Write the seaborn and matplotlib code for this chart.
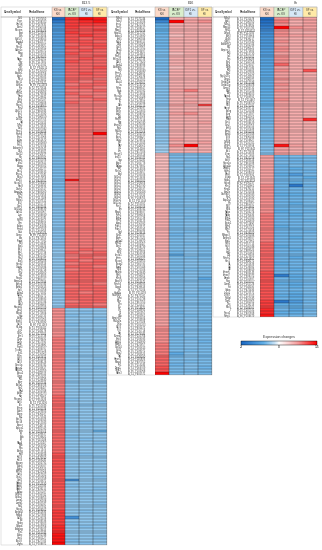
import numpy as np
import pandas as pd
import matplotlib
matplotlib.use("Agg")
import matplotlib.pyplot as plt
from matplotlib.colors import LinearSegmentedColormap, TwoSlopeNorm
from matplotlib.patches import Rectangle
import seaborn as sns

plt.rcParams['font.family'] = ['Liberation Sans', 'DejaVu Sans']

# %% data ------------------------------------------------------------
columns = ["KS vs.\nK26", "PACAP\nvs. KS", "IGF1 vs.\nKS", "SF vs.\nKS"]
header_colors = ["#fbd9c8", "#d9edcc", "#d6e7f6", "#ffeaa8"]
titles = ["E13.5", "E16", "8h"]

e135_genes = [
    "Ccl1", "Procr", "Unc5d", "Chst2", "Mecom", "Agt", "Bsn", "Cyb5r2", "Arrdc3", "Klk8",
    "Rasd1", "Cdkn1c", "Mrap", "Vcl", "Nppc", "Pyy", "Gdf6", "Gsr", "Egfl6", "Scube1",
    "Sgcb", "Mest", "Sox11", "Wnt5a", "Tnc", "Sulf1", "Ptprz1", "Nnat", "Tac1", "Wnt4",
    "Rspo3", "Fbn2", "Zfp521", "Tcf4", "Nrn1", "Twist2", "Id4", "Tgfb2", "Sall1", "Foxc1",
    "Pcdh8", "Sfrp1", "Crym", "Sfrp2", "Prrx1", "Adamts9", "Dlk1", "Cxcl12", "Ptn", "Igf2bp1",
    "Lhx2", "Ednra", "Gli3", "Msx1", "Shox2", "Meis2", "Tbx15", "Hoxa10", "Pax9", "Dach1",
    "Sema3a", "Efnb2", "Nrp2", "Robo1", "Slit2", "Gpc6", "Col14a1", "Cdh11", "Lum", "Dcn",
    "Postn", "Ogn", "Aspn", "Fmod", "Ctsk", "Comp", "Scx", "Tnmd", "Mkx", "Eya1",
    "Six1", "Six2", "Pitx1", "Pitx2", "Tbx5", "Hand2", "Gata6", "Osr1", "Osr2", "Wt1",
    "Foxd1", "Sema5a", "Epha4", "Ephb2", "Lgr5", "Axin2", "Nkd1", "Fzd7", "Wif1", "Dkk2", "Kazald1",
    "Cpa3", "Mcpt4", "Hdc", "Cma1", "Tpsb2", "Cd74", "H2-Aa", "Lyz2", "Csf1r", "Emr1",
    "C1qa", "C1qb", "C1qc", "Fcgr3", "Tyrobp", "Lcp1", "Ptprc", "Cd52", "Cd53", "Coro1a",
    "Hba-a1", "Hbb-b1", "Alas2", "Gypa", "Klf1", "Epor", "Slc4a1", "Car2", "Rhd", "Spta1",
    "Kdr", "Pecam1", "Cdh5", "Tek", "Emcn", "Cldn5", "Esam", "Flt1", "Sox17", "Sox18",
    "Apoe", "Apoa1", "Afp", "Ttr", "Alb", "Trf", "Rbp4", "Fgb", "Fga", "Ahsg",
    "Krt8", "Krt18", "Krt19", "Epcam", "Cldn4", "Cldn7", "Spint2", "Cdh1", "Ovol2", "Grhl2",
    "Igfbp2", "Igfbp5", "Igfbp7", "Sparc", "Col4a1", "Col4a2", "Lama1", "Lamb1", "Nid1", "Hspg2",
    "Angpt2", "Fabp4", "Cd36", "Lpl", "Pparg", "Cebpa", "Adipoq", "Plin1", "Cidec", "Ucp1", "Elovl3", "Vegfa",
]
e135_probes = [
    "A_51_P297450", "A_66_P108302", "A_52_P267635", "A_55_P196788", "A_51_P509476", "A_51_P123856", "A_52_P519104", "A_55_P209163", "A_51_P446577", "A_52_P163497",
    "A_51_P250652", "A_55_P199371", "A_51_P319766", "A_52_P628103", "A_51_P161351", "A_66_P117905", "A_51_P212782", "A_52_P542211", "A_51_P135020", "A_55_P203358",
    "A_52_P339025", "A_51_P418402", "A_51_P376671", "A_55_P211954", "A_52_P270614", "A_51_P206569", "A_51_P479508", "A_52_P128842", "A_51_P347297", "A_55_P198406",
    "A_51_P108563", "A_52_P640057", "A_51_P460845", "A_55_P213380", "A_51_P280150", "A_52_P107755", "A_51_P226416", "A_51_P372633", "A_55_P207042", "A_52_P394018",
    "A_51_P196534", "A_51_P512066", "A_52_P451670", "A_55_P200839", "A_51_P322704", "A_66_P110542", "A_51_P154011", "A_52_P236617", "A_51_P483392", "A_55_P215076",
    "A_51_P387815", "A_52_P583302", "A_51_P140277", "A_55_P206633", "A_51_P271945", "A_52_P317859", "A_51_P429101", "A_66_P104423", "A_51_P168896", "A_55_P210517",
    "A_52_P483260", "A_51_P337459", "A_51_P117028", "A_55_P197512", "A_51_P255713", "A_52_P602184", "A_51_P408639", "A_51_P182967", "A_55_P204880", "A_52_P219745",
    "A_51_P364110", "A_51_P497832", "A_52_P145608", "A_55_P212269", "A_51_P230474", "A_66_P113387", "A_51_P471553", "A_52_P377091", "A_51_P133845", "A_55_P199824",
    "A_51_P298617", "A_52_P526738", "A_51_P410392", "A_55_P208471", "A_51_P185206", "A_52_P282519", "A_51_P350884", "A_66_P106718", "A_51_P243160", "A_55_P214903",
    "A_52_P460327", "A_51_P127594", "A_51_P392746", "A_55_P201615", "A_51_P316058", "A_52_P171932", "A_51_P456271", "A_51_P209883", "A_55_P205334", "A_52_P598466", "A_51_P281709",
    "A_51_P220915", "A_52_P372804", "A_51_P141733", "A_55_P197065", "A_51_P433580", "A_66_P111269", "A_51_P306412", "A_52_P249178", "A_51_P172926", "A_55_P212738",
    "A_51_P358431", "A_52_P617595", "A_51_P119680", "A_55_P203907", "A_51_P487224", "A_52_P135062", "A_51_P262873", "A_51_P415548", "A_55_P208126", "A_52_P306741",
    "A_51_P193617", "A_51_P342059", "A_52_P488313", "A_55_P216422", "A_51_P228840", "A_66_P107594", "A_51_P464706", "A_52_P204457", "A_51_P150918", "A_55_P200273",
    "A_51_P379462", "A_52_P551829", "A_51_P113295", "A_55_P210849", "A_51_P291378", "A_52_P328605", "A_51_P436197", "A_51_P176543", "A_55_P206915", "A_52_P412083",
    "A_51_P248716", "A_51_P501392", "A_52_P158764", "A_55_P198637", "A_51_P334821", "A_66_P115028", "A_51_P120457", "A_52_P263390", "A_51_P477675", "A_55_P213514",
    "A_51_P204188", "A_52_P579910", "A_51_P368245", "A_55_P202791", "A_51_P159307", "A_52_P345526", "A_51_P420964", "A_51_P267102", "A_55_P207658", "A_52_P193871",
    "A_51_P312530", "A_51_P145986", "A_52_P434215", "A_55_P215287", "A_51_P399741", "A_66_P109853", "A_51_P236108", "A_52_P591347", "A_51_P187592", "A_55_P204162",
    "A_51_P451836", "A_52_P227689", "A_51_P128374", "A_55_P209596", "A_51_P374903", "A_52_P502958", "A_51_P274416", "A_51_P162045", "A_55_P201348", "A_52_P366127", "A_51_P427783", "A_51_P308871",
]
e135_ks = [
    -3.0, -2.5, -1.9, -1.8, -1.8, -1.7, -1.7, -1.6, -1.6, -1.6,
    -1.5, -1.5, -1.5, -1.5, -1.4, -1.4, -1.4, -1.4, -1.4, -1.3,
    -1.3, -1.3, -1.3, -1.3, -1.3, -1.2, -1.2, -1.2, -1.2, -1.2,
    -1.2, -1.2, -1.2, -1.1, -1.1, -1.1, -1.1, -1.1, -1.1, -1.1,
    -1.1, -1.1, -1.1, -1.1, -1.0, -1.0, -1.0, -1.0, -1.0, -1.0,
    -1.0, -1.0, -1.0, -1.0, -1.0, -1.0, -1.0, -1.0, -1.0, -1.0,
    -0.9, -0.9, -0.9, -0.9, -0.9, -0.9, -0.9, -0.9, -0.9, -0.9,
    -0.9, -0.9, -0.9, -0.9, -0.9, -0.9, -0.9, -0.9, -0.9, -0.9,
    -0.8, -0.8, -0.8, -0.8, -0.8, -0.8, -0.8, -0.8, -0.8, -0.8,
    -0.8, -0.8, -0.8, -0.8, -0.8, -0.8, -0.8, -0.8, -0.8, -0.8, -0.8,
    0.8, 0.8, 0.8, 0.8, 0.8, 0.8, 0.8, 0.8, 0.8, 0.8,
    0.9, 0.9, 0.9, 0.9, 0.9, 0.9, 0.9, 0.9, 0.9, 0.9,
    0.9, 0.9, 0.9, 0.9, 0.9, 0.9, 0.9, 0.9, 0.9, 0.9,
    1.0, 1.0, 1.0, 1.0, 1.0, 1.0, 1.0, 1.0, 1.0, 1.0,
    1.0, 1.0, 1.0, 1.0, 1.0, 1.0, 1.0, 1.0, 1.0, 1.0,
    1.1, 1.1, 1.1, 1.1, 1.1, 1.1, 1.1, 1.1, 1.1, 1.1,
    1.1, 1.1, 1.1, 1.1, 1.1, 1.1, 1.1, 1.1, 1.1, 1.1,
    1.2, 1.2, 1.2, 1.2, 1.2, 1.3, 1.3, 1.3, 1.4, 1.4, 1.4, 1.5,
]
e135_pacap = [
    1.3, 1.2, 1.2, 1.2, 1.1, 1.2, 1.1, 1.1, 1.1, 1.0,
    1.1, 1.0, 1.1, 1.0, 1.0, 1.1, 1.0, 1.0, 1.0, 1.0,
    1.0, 1.0, 1.0, 0.9, 1.0, 0.9, 1.0, 0.9, 0.9, 1.0,
    0.9, 0.9, 0.9, 0.9, 0.9, 0.9, 0.9, 0.9, 0.9, 0.9,
    0.9, 0.9, 0.9, 0.9, 0.9, 0.9, 0.9, 0.9, 0.9, 0.9,
    0.9, 0.9, 0.9, 0.9, 0.9, 0.9, 1.4, 0.9, 0.9, 0.9,
    0.9, 0.9, 0.9, 0.9, 0.9, 0.9, 0.9, 0.9, 0.9, 0.9,
    0.9, 0.9, 0.9, 0.9, 0.9, 0.9, 0.9, 0.9, 0.9, 0.9,
    0.9, 1.0, 0.9, 0.9, 1.0, 0.9, 1.0, 0.9, 1.0, 1.0,
    1.0, 1.0, 1.0, 0.9, 1.0, 1.0, 1.0, 1.0, 0.9, 1.0, 1.0,
    -0.8, -0.8, -0.9, -0.8, -0.8, -0.9, -0.8, -0.8, -0.8, -0.9,
    -0.8, -0.8, -0.8, -0.9, -0.8, -0.8, -0.8, -0.8, -0.9, -0.8,
    -0.8, -0.8, -0.8, -0.8, -0.8, -0.9, -0.8, -0.8, -0.8, -0.8,
    -0.8, -0.9, -0.8, -0.8, -0.8, -0.8, -0.8, -0.9, -0.8, -0.8,
    -0.8, -0.8, -0.8, -0.8, -0.9, -0.8, -0.8, -0.8, -0.8, -0.8,
    -0.8, -0.8, -0.8, -0.8, -0.8, -0.8, -0.8, -0.8, -0.8, -2.0,
    -0.8, -0.9, -0.8, -0.8, -0.8, -0.8, -0.8, -0.8, -0.8, -0.8,
    -0.8, -0.8, -2.0, -0.8, -0.9, -0.8, -0.8, -0.8, -0.8, -0.8, -0.9, -0.8,
]
e135_igf1 = [
    1.5, 1.3, 1.2, 1.1, 1.1, 1.1, 1.2, 1.0, 1.1, 1.1,
    1.0, 1.1, 1.0, 1.0, 1.1, 1.0, 1.0, 1.0, 1.0, 1.1,
    1.0, 1.0, 0.9, 1.0, 1.0, 0.9, 0.9, 1.0, 0.9, 0.9,
    0.9, 0.9, 0.9, 0.9, 0.9, 0.9, 0.9, 0.9, 0.9, 0.9,
    0.9, 0.9, 0.9, 0.9, 0.9, 0.9, 0.9, 0.9, 0.9, 0.9,
    0.9, 0.9, 0.9, 0.9, 0.9, 0.9, 0.9, 0.9, 0.9, 0.9,
    0.9, 0.9, 0.9, 0.9, 0.9, 0.9, 0.9, 0.9, 0.9, 0.9,
    0.9, 0.9, 0.9, 0.9, 0.9, 0.9, 0.9, 0.9, 0.9, 0.9,
    1.0, 0.9, 1.0, 1.0, 0.9, 1.0, 1.0, 1.0, 1.0, 1.0,
    1.0, 1.0, 1.0, 1.0, 1.0, 0.9, 1.0, 1.0, 1.0, 1.0, 1.0,
    -0.8, -0.9, -0.8, -0.8, -0.9, -0.8, -0.8, -0.9, -0.8, -0.8,
    -0.8, -0.8, -0.9, -0.8, -0.8, -0.8, -0.9, -0.8, -0.8, -0.8,
    -0.8, -0.9, -0.8, -0.8, -0.8, -0.8, -0.8, -0.8, -0.9, -0.8,
    -0.8, -0.8, -0.8, -0.9, -0.8, -0.8, -0.8, -0.8, -0.8, -0.9,
    -0.8, -0.8, -0.8, -0.8, -0.8, -0.9, -0.8, -0.8, -0.8, -0.8,
    -0.9, -0.8, -0.8, -0.8, -0.8, -0.8, -0.9, -0.8, -0.8, -0.8,
    -0.8, -0.8, -0.8, -0.9, -0.8, -0.8, -0.8, -0.8, -0.8, -0.8,
    -0.9, -0.8, -0.8, -0.8, -0.8, -0.9, -0.8, -0.8, -0.8, -0.8, -0.8, -0.9,
]
e135_sf = [
    1.4, 1.4, 1.2, 1.1, 1.2, 1.1, 1.1, 1.1, 1.0, 1.1,
    1.1, 1.0, 1.0, 1.1, 1.0, 1.0, 1.0, 1.1, 1.0, 1.0,
    1.0, 0.9, 1.0, 1.0, 0.9, 1.0, 0.9, 0.9, 1.0, 0.9,
    0.9, 0.9, 0.9, 0.9, 0.9, 0.9, 0.9, 0.9, 0.9, 0.9,
    1.5, 0.9, 0.9, 0.9, 0.9, 0.9, 0.9, 0.9, 0.9, 0.9,
    0.9, 0.9, 0.9, 0.9, 0.9, 0.9, 0.9, 0.9, 0.9, 0.9,
    0.9, 0.9, 0.9, 0.9, 0.9, 0.9, 0.9, 0.9, 0.9, 0.9,
    0.9, 0.9, 0.9, 0.9, 0.9, 0.9, 0.9, 0.9, 0.9, 0.9,
    0.9, 1.0, 1.0, 0.9, 1.0, 1.0, 0.9, 1.0, 1.0, 1.0,
    1.0, 1.0, 0.9, 1.0, 1.0, 1.0, 1.0, 1.0, 1.0, 0.9, 1.0,
    -0.8, -0.8, -0.8, -0.9, -0.8, -0.8, -0.8, -0.8, -0.9, -0.8,
    -0.8, -0.9, -0.8, -0.8, -0.8, -0.8, -0.8, -0.9, -0.8, -0.8,
    -0.9, -0.8, -0.8, -0.8, -0.8, -0.9, -0.8, -0.8, -0.8, -0.8,
    -0.8, -0.8, -0.9, -0.8, -0.8, -0.8, -0.8, -0.8, -0.9, -0.8,
    -0.8, -0.8, -1.2, -0.8, -0.8, -0.8, -0.9, -0.8, -0.8, -0.8,
    -0.8, -0.9, -0.8, -0.8, -0.8, -0.8, -0.8, -0.8, -0.9, -0.8,
    -0.8, -0.8, -0.9, -0.8, -0.8, -0.8, -0.8, -0.9, -0.8, -0.8,
    -0.8, -0.8, -0.8, -0.8, -0.9, -0.8, -0.8, -0.8, -0.8, -0.9, -0.8, -0.8,
]

e16_genes = [
    "Nr4a1", "Nr4a2", "Lmo1", "Foxf1", "Mmp2", "Hdac11", "Adcy1", "Enc1", "Ntrk2", "Dlg2",
    "Gpc3", "Zfhx4", "Bag3", "Pcsk1", "Bhlhe22", "Dkk3", "Arrb1", "Cntnap2", "Nefl", "Stmn2",
    "Gap43", "Tubb3", "Elavl4", "Ina", "Nefm", "Prph", "Isl1", "Phox2b", "Hand1", "Th",
    "Dbh", "Chga", "Chgb", "Scg2", "Vgf", "Pcsk2", "Syp", "Snap25", "Syt1", "Rab3a",
    "Nos1", "Tacr1", "Calb2", "Sst", "Npy", "Gal", "Crh",
    "Rasgrf1", "Lrrc15", "Ibsp", "Spp1", "Bglap", "Sp7", "Runx2", "Alpl", "Col1a1", "Col1a2",
    "Col3a1", "Col5a1", "Col5a2", "Col6a1", "Col6a2", "Col6a3", "Col11a1", "Col12a1", "Fbn1", "Eln",
    "Mfap5", "Fbln1", "Fbln2", "Fbln5", "Ltbp2", "Thbs1", "Thbs2", "Ctgf", "Cyr61", "Tagln",
    "Acta2", "Myh11", "Cnn1", "Des", "Myl9", "Lmod1", "Smtn", "Myocd", "Actg2", "Tpm2",
    "Mylk", "Pdgfrb", "Rgs5", "Kcnj8", "Abcc9", "Notch3", "Cspg4", "Vtn", "Higd1b", "Ndufa4l2",
    "Tgfbi", "Mgp", "Gsn", "Clu", "Cfh", "C3", "C4b", "Serping1", "Pla2g2a", "Ly6a",
    "Cd34", "Pi16", "Dpt", "Efemp1", "Sfrp4", "Wisp2", "Mmp3", "Cxcl14", "Ccl11", "Ptgs2",
    "Igf1", "Hmcn1", "Mfap4", "Fn1", "Timp1", "Timp3", "Rbm3",
]
e16_probes = [
    "A_51_P170244", "A_51_P219026", "A_52_P421756", "A_55_P204517", "A_51_P393108", "A_66_P112746", "A_51_P152680", "A_52_P286934", "A_51_P468315", "A_55_P199258",
    "A_51_P327051", "A_52_P563497", "A_51_P114962", "A_55_P211603", "A_51_P245739", "A_52_P177820", "A_51_P404586", "A_51_P283317", "A_55_P206049", "A_52_P448692",
    "A_51_P136478", "A_51_P361902", "A_52_P239165", "A_55_P214370", "A_51_P488547", "A_66_P105932", "A_51_P213884", "A_52_P610428", "A_51_P179651", "A_55_P202584",
    "A_51_P341216", "A_52_P324097", "A_51_P125803", "A_55_P208932", "A_51_P452369", "A_52_P157214", "A_51_P296740", "A_51_P432075", "A_55_P197894", "A_52_P531268",
    "A_51_P201593", "A_51_P384427", "A_52_P274851", "A_55_P212015", "A_51_P148362", "A_66_P114189", "A_51_P417906",
    "A_51_P266518", "A_52_P399743", "A_51_P131295", "A_55_P205776", "A_51_P473681", "A_52_P214906", "A_51_P318457", "A_51_P193026", "A_55_P213839", "A_52_P566012",
    "A_51_P258164", "A_51_P445790", "A_52_P143337", "A_55_P200468", "A_51_P376913", "A_66_P108765", "A_51_P111549", "A_52_P352981", "A_51_P289206", "A_55_P209341",
    "A_51_P409827", "A_52_P588164", "A_51_P165738", "A_55_P203125", "A_51_P335092", "A_52_P262571", "A_51_P481346", "A_51_P224619", "A_55_P216087", "A_52_P417325",
    "A_51_P139870", "A_51_P302457", "A_52_P508739", "A_55_P198152", "A_51_P453918", "A_66_P110284", "A_51_P186427", "A_52_P301653", "A_51_P366795", "A_55_P207416",
    "A_51_P122306", "A_52_P623840", "A_51_P398162", "A_55_P201879", "A_51_P253475", "A_52_P188095", "A_51_P438619", "A_51_P176204", "A_55_P211158", "A_52_P470291",
    "A_51_P310738", "A_51_P467053", "A_52_P226417", "A_55_P214625", "A_51_P143692", "A_66_P116350", "A_51_P382561", "A_52_P359804", "A_51_P237928", "A_55_P205203",
    "A_51_P491472", "A_52_P135718", "A_51_P279346", "A_55_P210764", "A_51_P158035", "A_52_P542690", "A_51_P422857", "A_51_P205613", "A_55_P198971", "A_52_P383526",
    "A_51_P349180", "A_51_P116894", "A_52_P497052", "A_55_P213246", "A_51_P264709", "A_66_P103968", "A_51_P405571",
]
e16_ks = [
    -3.0, -2.2, -1.3, -1.2, -1.2, -1.2, -1.1, -1.1, -1.1, -1.1,
    -1.1, -1.0, -1.0, -1.0, -1.0, -1.0, -1.0, -1.0, -1.0, -1.0,
    -0.9, -0.9, -0.9, -0.9, -0.9, -0.9, -0.9, -0.9, -0.9, -0.9,
    -0.9, -0.8, -0.8, -0.8, -0.8, -0.8, -0.8, -0.8, -0.8, -0.8,
    -0.8, -0.8, -0.8, -0.8, -0.7, -0.7, -0.7,
    0.5, 0.5, 0.5, 0.5, 0.5, 0.5, 0.5, 0.5, 0.5, 0.5,
    0.5, 0.5, 0.5, 0.5, 0.5, 0.5, 0.5, 0.5, 0.5, 0.5,
    0.6, 0.6, 0.6, 0.6, 0.6, 0.6, 0.6, 0.6, 0.6, 0.6,
    0.6, 0.6, 0.6, 0.6, 0.6, 0.6, 0.6, 0.6, 0.6, 0.6,
    0.7, 0.7, 0.7, 0.7, 0.7, 0.7, 0.7, 0.7, 0.7, 0.7,
    0.7, 0.7, 0.7, 0.7, 0.7, 0.7, 0.7, 0.7, 0.7, 0.7,
    0.8, 0.8, 0.8, 0.8, 0.8, 0.8, 0.9, 0.9, 0.9, 0.9,
    1.0, 1.0, 1.0, 1.0, 1.1, 1.1, 1.5,
]
e16_pacap = [
    0.6, 1.5, 0.6, 0.6, 0.6, 0.6, 0.5, 0.6, 0.6, 0.6,
    0.6, 0.6, 0.5, 0.6, 0.6, 0.6, 0.6, 0.5, 0.6, 0.6,
    0.6, 0.6, 0.6, 0.6, 0.6, 0.7, 0.6, 0.6, 0.6, 0.6,
    0.7, 0.6, 0.6, 0.7, 0.6, 0.6, 0.6, 0.6, 0.6, 0.6,
    0.6, 0.6, 0.7, 0.6, 0.8, 0.6, 0.6,
    -0.9, -1.0, -0.9, -1.0, -1.0, -0.9, -1.0, -1.0, -1.0, -0.9,
    -1.0, -1.0, -1.0, -1.0, -0.9, -1.0, -1.0, -1.0, -1.0, -1.0,
    -1.0, -1.0, -0.9, -1.0, -1.0, -1.0, -1.0, -1.0, -1.1, -1.0,
    -1.0, -1.0, -1.0, -1.0, -1.1, -1.5, -1.0, -1.0, -1.0, -1.0,
    -1.0, -1.1, -1.0, -1.0, -1.0, -1.0, -1.0, -1.0, -1.1, -1.0,
    -1.0, -1.0, -1.0, -1.0, -1.0, -1.1, -1.0, -1.0, -1.0, -1.1,
    -1.0, -1.0, -1.0, -1.1, -1.0, -1.0, -1.0, -1.0, -1.0, -1.3,
    -1.1, -1.0, -1.0, -1.1, -1.0, -1.0, -1.0,
]
e16_igf1 = [
    0.6, 0.7, 0.6, 0.6, 0.6, 0.6, 0.6, 0.6, 0.6, 0.6,
    0.6, 0.6, 0.6, 0.6, 0.6, 0.6, 0.6, 0.6, 0.6, 0.6,
    0.6, 0.6, 0.6, 0.6, 0.6, 0.9, 0.6, 0.7, 0.6, 0.7,
    0.6, 0.6, 0.6, 0.8, 0.6, 0.6, 0.6, 0.6, 0.6, 0.6,
    0.6, 0.6, 0.6, 0.6, 1.5, 0.6, 0.6,
    -0.9, -0.9, -1.0, -0.9, -0.9, -1.0, -0.9, -0.9, -1.0, -0.9,
    -0.9, -1.0, -0.9, -0.9, -0.9, -1.0, -0.9, -0.9, -0.9, -1.0,
    -0.9, -0.9, -1.0, -0.9, -0.9, -0.9, -0.9, -1.0, -0.9, -0.9,
    -0.9, -1.0, -0.9, -0.9, -0.9, -0.9, -1.0, -0.9, -0.9, -0.9,
    -1.0, -0.9, -0.9, -0.9, -1.0, -0.9, -0.9, -0.9, -0.9, -1.0,
    -0.9, -0.9, -1.0, -0.9, -0.9, -0.9, -1.0, -0.9, -0.9, -0.9,
    -0.9, -1.0, -0.9, -0.9, -1.0, -0.9, -0.9, -0.9, -1.0, -0.9,
    -0.9, -0.9, -1.0, -0.9, -0.9, -1.0, -0.9,
]
e16_sf = [
    0.6, 0.8, 0.6, 0.6, 0.6, 0.6, 0.6, 0.6, 0.6, 0.6,
    0.6, 0.6, 0.6, 0.6, 0.6, 0.6, 0.6, 0.6, 0.6, 0.6,
    0.6, 0.6, 0.6, 0.6, 0.6, 0.6, 0.6, 0.6, 0.6, 0.6,
    1.2, 0.6, 0.6, 0.6, 0.6, 0.6, 0.7, 0.6, 0.6, 0.6,
    0.6, 0.6, 0.6, 0.7, 0.6, 0.6, 0.6,
    -0.9, -1.0, -1.0, -0.9, -1.0, -1.0, -1.0, -0.9, -1.0, -1.0,
    -1.0, -0.9, -1.0, -1.0, -1.0, -1.0, -0.9, -1.0, -1.0, -1.0,
    -1.0, -1.0, -1.0, -0.9, -1.0, -1.0, -1.0, -1.0, -1.0, -0.9,
    -1.0, -1.0, -1.0, -1.0, -1.0, -1.1, -1.0, -1.0, -0.9, -1.0,
    -1.0, -1.0, -1.0, -1.4, -1.0, -1.0, -1.0, -1.1, -1.0, -1.0,
    -1.0, -1.0, -1.1, -1.0, -1.0, -1.0, -1.0, -1.0, -1.1, -1.0,
    -1.0, -1.1, -1.0, -1.0, -1.0, -1.1, -1.0, -1.0, -1.0, -1.0,
    -1.1, -1.0, -1.0, -1.0, -1.1, -1.0, -1.0,
]

h8_genes = [
    "Nr4a3", "Sgk1", "Nr4a1", "Mmp13", "Fgf21", "Dusp6", "Atf3", "Zfp36", "Gdf15", "Adamts1",
    "Mt2", "Serpine1", "Klf4", "Ier3", "Fos", "Egr1", "Egr2", "Junb", "Klf6", "Btg2",
    "Ppp1r15a", "Dusp1", "Gadd45b", "Gadd45g", "Csrnp1", "Maff", "Arc", "Npas4", "Fosb", "Egr3",
    "Nfil3", "Hbegf", "Areg", "Ereg", "Epgn", "Plaur", "Ccn1", "Ccn2", "Errfi1", "Spry2",
    "Spry4", "Etv4", "Etv5", "Dusp4", "Dusp5", "Phlda1", "Sik1", "Crem",
    "Nrp1", "Sox9", "Hspa1a", "Hspa1b", "Dnajb1", "Hsph1", "Bag3", "Cryab", "Hspb1", "Hspa8",
    "Kcnj2", "Kcnq1", "Scn5a", "Cacna1c", "Ryr2", "Atp2a2", "Pln", "Myl7", "Myl4", "Nppa",
    "Nppb", "Tnni1", "Tnnt2", "Actc1", "Myh6", "Myh7", "Ttn", "Mybpc3", "Ankrd1", "Xirp1",
    "Hey1", "Hey2", "Heyl", "Jag1", "Dll4", "Notch1", "Hes1", "Id1", "Id2", "Id3",
    "Smad6", "Smad7", "Bambi", "Nog", "Grem1", "Fst", "Inhba", "Lefty1", "Lefty2", "Nodal",
    "Tdgf1", "Gsc", "Mixl1", "T", "Foxa2", "Ndrg1",
]
h8_probes = [
    "A_51_P231478", "A_52_P186350", "A_51_P474692", "A_55_P207785", "A_51_P118321", "A_66_P112093", "A_51_P353864", "A_52_P438217", "A_51_P197540", "A_55_P202396",
    "A_51_P286125", "A_52_P571683", "A_51_P412730", "A_55_P215912", "A_51_P164289", "A_52_P246754", "A_51_P329017", "A_51_P457346", "A_55_P199683", "A_52_P335910",
    "A_51_P142556", "A_51_P390871", "A_52_P612048", "A_55_P209478", "A_51_P259732", "A_66_P107236", "A_51_P484103", "A_52_P168592", "A_51_P211467", "A_55_P204950",
    "A_51_P371285", "A_52_P293716", "A_51_P126948", "A_55_P212587", "A_51_P441362", "A_52_P514870", "A_51_P304629", "A_51_P181753", "A_55_P197438", "A_52_P401189",
    "A_51_P247016", "A_51_P496284", "A_52_P154627", "A_55_P210301", "A_51_P333598", "A_66_P115642", "A_51_P172839", "A_52_P277405",
    "A_51_P420378", "A_51_P269514", "A_52_P462938", "A_55_P203662", "A_51_P150127", "A_52_P208473", "A_51_P387692", "A_51_P113546", "A_55_P214118", "A_52_P595237",
    "A_51_P342861", "A_51_P478215", "A_52_P231904", "A_55_P200935", "A_51_P219380", "A_66_P109417", "A_51_P461057", "A_52_P319682", "A_51_P128793", "A_55_P206274",
    "A_51_P395436", "A_52_P547013", "A_51_P241609", "A_55_P211890", "A_51_P167352", "A_52_P372458", "A_51_P434920", "A_51_P292184", "A_55_P198507", "A_52_P127861",
    "A_51_P357713", "A_51_P185048", "A_52_P489526", "A_55_P215463", "A_51_P273605", "A_66_P113810", "A_51_P448271", "A_52_P252639", "A_51_P134982", "A_55_P208819",
    "A_51_P406145", "A_52_P604372", "A_51_P316887", "A_55_P202057", "A_51_P155724", "A_52_P343195", "A_51_P472436", "A_51_P222571", "A_55_P213702", "A_52_P416940",
    "A_51_P381052", "A_51_P138219", "A_52_P284765", "A_55_P207521", "A_51_P497608", "A_66_P104679",
]
h8_ks = [
    -3.0, -2.8, -2.6, -2.4, -2.1, -2.0, -1.9, -1.8, -1.8, -1.7,
    -1.7, -1.6, -1.6, -1.6, -1.5, -1.5, -1.5, -1.4, -1.4, -1.4,
    -1.4, -1.3, -1.3, -1.3, -1.3, -1.3, -1.2, -1.2, -1.2, -1.2,
    -1.2, -1.1, -1.1, -1.1, -1.1, -1.1, -1.1, -1.0, -1.0, -1.0,
    -1.0, -1.0, -1.0, -1.0, -0.9, -0.9, -0.9, -0.9,
    0.7, 0.7, 0.7, 0.7, 0.7, 0.7, 0.7, 0.7, 0.7, 0.7,
    0.8, 0.8, 0.8, 0.8, 0.8, 0.8, 0.8, 0.8, 0.8, 0.8,
    0.9, 0.9, 0.9, 0.9, 0.9, 0.9, 0.9, 0.9, 0.9, 0.9,
    1.0, 1.0, 1.0, 1.0, 1.0, 1.0, 1.0, 1.0, 1.0, 1.0,
    1.1, 1.1, 1.1, 1.1, 1.1, 1.1, 1.1, 1.1, 1.1, 1.1,
    1.2, 1.2, 1.2, 1.3, 1.3, 1.4,
]
h8_pacap = [
    0.8, 0.9, 0.8, 1.5, 0.8, 0.8, 0.8, 0.7, 0.8, 0.7,
    0.8, 0.8, 0.7, 0.8, 0.8, 0.8, 1.0, 0.7, 0.8, 0.7,
    0.7, 0.8, 0.7, 0.8, 0.7, 0.8, 0.7, 0.7, 0.8, 0.7,
    0.7, 0.7, 0.7, 0.7, 0.7, 0.7, 0.7, 0.7, 0.7, 0.7,
    0.7, 0.7, 0.7, 0.7, 1.4, 0.7, 0.7, 0.7,
    -1.1, -1.1, -1.0, -1.1, -1.1, -1.1, -1.2, -1.1, -1.1, -1.1,
    -1.1, -1.1, -1.1, -1.2, -1.1, -1.1, -1.1, -1.1, -1.1, -1.2,
    -1.1, -1.1, -1.1, -1.1, -1.2, -1.1, -1.1, -1.1, -1.1, -1.1,
    -1.1, -1.2, -1.1, -1.1, -1.1, -1.1, -1.1, -1.2, -1.1, -1.1,
    -1.1, -2.5, -1.1, -1.1, -1.2, -1.1, -1.1, -1.1, -1.2, -1.1,
    -2.6, -1.2, -1.1, -1.1, -1.2, -1.1,
]
h8_igf1 = [
    0.7, 0.6, 0.6, 0.8, 0.6, 0.6, 0.7, 0.6, 0.6, 0.6,
    0.6, 0.6, 0.6, 0.6, 0.6, 0.6, 0.6, 0.6, 0.6, 0.6,
    0.6, 0.6, 0.6, 0.6, 0.6, 0.6, 0.6, 0.6, 0.6, 0.6,
    0.6, 0.6, 0.6, 0.6, 0.6, 0.6, 0.6, 0.6, 0.6, 0.6,
    0.6, 0.6, 0.6, 0.6, 0.7, 0.6, 0.6, 0.6,
    -1.0, -1.1, -1.1, -1.0, -1.2, -1.1, -1.6, -1.1, -1.1, -1.2,
    -2.6, -1.1, -1.1, -1.2, -1.1, -1.1, -1.2, -1.1, -1.1, -1.1,
    -1.2, -1.1, -1.1, -1.1, -1.1, -1.2, -1.1, -1.1, -1.2, -1.1,
    -1.1, -1.1, -1.2, -1.1, -1.1, -1.3, -1.1, -1.1, -1.1, -1.2,
    -1.1, -1.3, -1.2, -1.1, -1.3, -1.2, -1.1, -1.2, -1.4, -1.2,
    -1.7, -1.3, -1.2, -1.4, -1.2, -1.1,
]
h8_sf = [
    0.7, 0.7, 0.7, 0.7, 0.7, 0.6, 0.7, 0.6, 0.6, 0.6,
    0.6, 0.6, 0.6, 0.6, 0.6, 0.6, 0.6, 0.6, 1.1, 0.6,
    0.6, 0.6, 0.6, 0.6, 0.6, 0.6, 0.6, 0.6, 0.6, 0.6,
    0.6, 0.6, 0.6, 0.6, 0.6, 1.3, 0.6, 0.6, 0.6, 0.6,
    0.6, 0.6, 0.6, 0.6, 0.6, 0.6, 0.6, 0.6,
    -1.0, -1.0, -1.1, -1.0, -1.0, -1.1, -1.0, -1.2, -1.0, -1.0,
    -1.1, -1.0, -1.0, -1.1, -1.0, -1.0, -1.0, -1.1, -1.0, -1.1,
    -1.0, -1.0, -1.1, -1.0, -1.0, -1.0, -1.1, -1.0, -1.0, -1.0,
    -1.1, -1.0, -1.0, -1.0, -1.1, -1.0, -1.0, -1.1, -1.0, -1.0,
    -1.0, -1.1, -1.0, -1.0, -1.1, -1.0, -1.0, -1.0, -1.1, -1.0,
    -1.1, -1.0, -1.0, -1.1, -1.0, -1.0,
]

# %% colours ---------------------------------------------------------
cmap = LinearSegmentedColormap.from_list("expr", [
    (0.0, "#1a67c2"), (0.3, "#62b0e8"), (0.45, "#cde5f7"), (0.5, "#ffffff"),
    (0.58, "#fde2e2"), (0.75, "#f59a9a"), (1.0, "#ff0000")])
norm = TwoSlopeNorm(vmin=-3, vcenter=0, vmax=1.5)

# %% layout (pixels of the 322x550 canvas)
W, H = 322, 550
row_px = 2.885
top_px = 17
# panel left edge, heat block x0/x1, gene text right edge, probe centre, header centres
layout = [
    dict(left=1, x0=51.5, x1=107, gene=23, probe=38, gh=13, ph=37),
    dict(left=108, x0=155, x1=212, gene=122, probe=137, gh=120, ph=143),
    dict(left=213, x0=260, x1=317, gene=231, probe=246, gh=224, ph=248),
]
tables = [
    (e135_genes, e135_probes, e135_ks, e135_pacap, e135_igf1, e135_sf),
    (e16_genes, e16_probes, e16_ks, e16_pacap, e16_igf1, e16_sf),
    (h8_genes, h8_probes, h8_ks, h8_pacap, h8_igf1, h8_sf),
]

fig = plt.figure(figsize=(W / 100, H / 100), dpi=100)
fs = 1.8
txt_col = "#3c3c3c"
hdr_rows = 10 / row_px

for title, lay, (genes, probes, ks, pacap, igf1, sf) in zip(titles, layout, tables):
    df = pd.DataFrame({columns[0]: ks, columns[1]: pacap, columns[2]: igf1, columns[3]: sf},
                      index=genes)
    n = len(df)
    h = n * row_px
    ax = fig.add_axes([lay["x0"] / W, 1 - (top_px + h) / H, (lay["x1"] - lay["x0"]) / W, h / H])
    sns.heatmap(df, ax=ax, cmap=cmap, norm=norm, cbar=False, linewidths=0,
                xticklabels=False, yticklabels=False)
    # thin cell borders drawn once
    ax.hlines(np.arange(n + 1), 0, 4, colors="#2a2a2a", lw=0.35, alpha=0.75)
    ax.vlines(np.arange(5), 0, n, colors="#2a2a2a", lw=0.35, alpha=0.8)
    ax.set_xlabel("")
    ax.set_ylabel("")
    colw = (lay["x1"] - lay["x0"]) / 4
    u = lambda px: (px - lay["x0"]) / colw

    for i, (g, pr) in enumerate(zip(genes, probes)):
        ax.text(u(lay["gene"]), i + 0.5, g, ha="right", va="center", fontsize=fs,
                color=txt_col, clip_on=False)
        ax.text(u(lay["probe"]), i + 0.5, pr, ha="center", va="center", fontsize=fs,
                color=txt_col, clip_on=False)

    # header cells
    for j, (lab, c) in enumerate(zip(columns, header_colors)):
        ax.add_patch(Rectangle((j, -hdr_rows), 1, hdr_rows, facecolor=c, edgecolor="#9a9a9a",
                               lw=0.3, clip_on=False))
        ax.text(j + 0.5, -hdr_rows / 2, lab, ha="center", va="center", fontsize=2.0,
                linespacing=1.3, color="#333333", clip_on=False)
    ax.text(u(lay["gh"]), -hdr_rows / 2, "GeneSymbol", ha="center", va="center",
            fontsize=2.1, fontweight="bold", color="#333333", clip_on=False)
    ax.text(u(lay["ph"]), -hdr_rows / 2, "ProbeName", ha="center", va="center",
            fontsize=2.1, fontweight="bold", color="#333333", clip_on=False)
    ax.plot([u(lay["left"]), 0], [0, 0], color="#777777", lw=0.35, clip_on=False)
    ax.text(2.5, -hdr_rows - 1.3, title, ha="center", va="center", fontsize=2.5,
            color="#333333", clip_on=False)
    # thin frame round the table
    ax.add_patch(Rectangle((u(lay["left"]), -hdr_rows), 4 - u(lay["left"]), n + hdr_rows,
                           fill=False, edgecolor="#c8c8c8", lw=0.35, clip_on=False))

# legend
cax = fig.add_axes([241 / W, 1 - 344.5 / H, 76 / W, 4 / H])
sm = plt.cm.ScalarMappable(norm=norm, cmap=cmap)
cb = fig.colorbar(sm, cax=cax, orientation="horizontal", ticks=[-3, 0, 1.5])
cb.ax.set_xticklabels(["-3", "0", "1.5"])
cb.ax.tick_params(labelsize=2.3, length=0, pad=0.5)
cb.outline.set_linewidth(0.3)
cax.set_title("Expression changes", fontsize=2.5, pad=1.5, color="#333333")

fig.savefig("out.png", dpi=100)
